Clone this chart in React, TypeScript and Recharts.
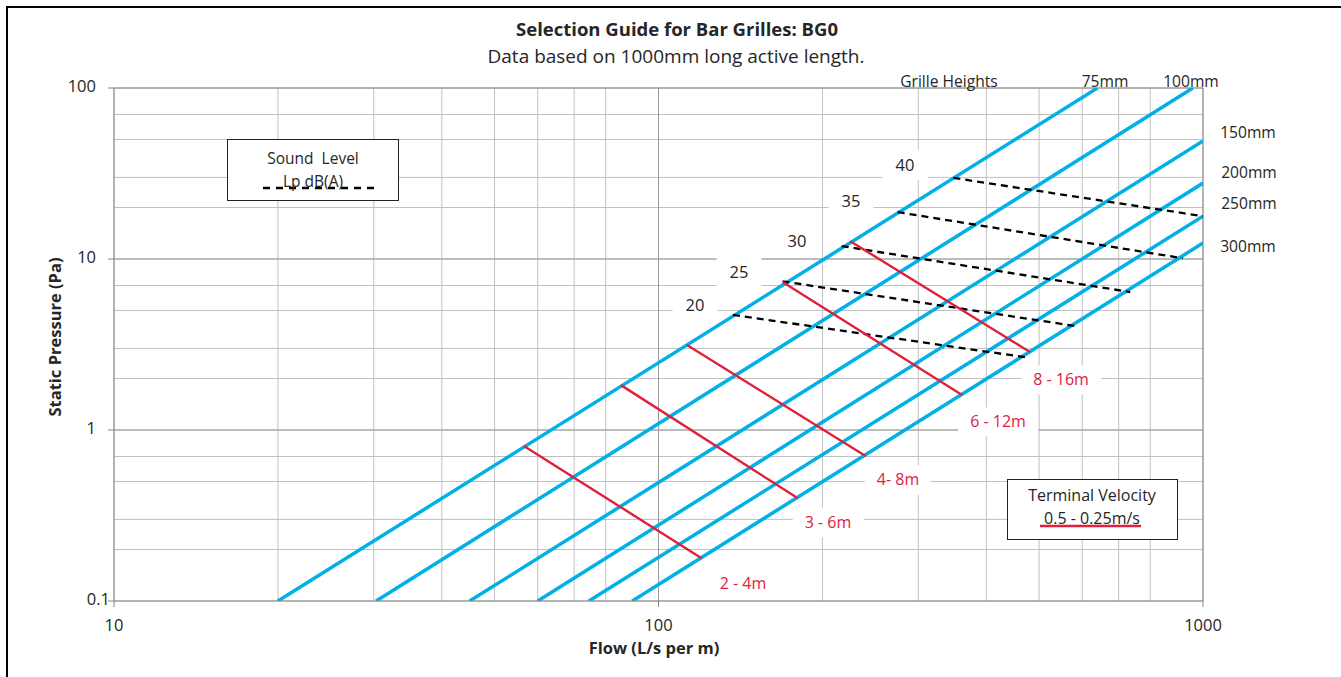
import React from "react";
import {
  LineChart,
  Line,
  XAxis,
  YAxis,
  CartesianGrid,
  ReferenceLine,
} from "recharts";

// axis ticks (log decades with minor lines)
const flowTicks = [10, 20, 30, 40, 50, 60, 70, 80, 90, 100, 200, 300, 400, 500, 600, 700, 800, 900, 1000];
const flowMajor = [10, 100, 1000];
const pressureTicks = [
  0.1, 0.2, 0.3, 0.4, 0.5, 0.6, 0.7, 0.8, 0.9, 1, 2, 3, 4, 5, 6, 7, 8, 9, 10,
  20, 30, 40, 50, 60, 70, 80, 90, 100,
];
const pressureMajor = [0.1, 1, 10, 100];

// grille height lines (flow L/s per m, static pressure Pa)
const grille75 = [{ q: 20, p: 0.1 }, { q: 640, p: 100 }];
const grille100 = [{ q: 30.3, p: 0.1 }, { q: 958, p: 100 }];
const grille150 = [{ q: 45, p: 0.1 }, { q: 1000, p: 49 }];
const grille200 = [{ q: 60, p: 0.1 }, { q: 1000, p: 27.8 }];
const grille250 = [{ q: 74.5, p: 0.1 }, { q: 1000, p: 17.8 }];
const grille300 = [{ q: 89.5, p: 0.1 }, { q: 1000, p: 12.4 }];

// terminal velocity throw lines
const throw2to4 = [{ q: 56.6, p: 0.805 }, { q: 120, p: 0.178 }];
const throw3to6 = [{ q: 85.3, p: 1.83 }, { q: 180, p: 0.4 }];
const throw4to8 = [{ q: 112.8, p: 3.14 }, { q: 240, p: 0.705 }];
const throw6to12 = [{ q: 169, p: 7.33 }, { q: 361, p: 1.6 }];
const throw8to16 = [{ q: 225, p: 12.7 }, { q: 481, p: 2.86 }];

// sound level lines Lp dB(A)
const sound20 = [{ q: 137, p: 4.71 }, { q: 481, p: 2.64 }];
const sound25 = [{ q: 169, p: 7.4 }, { q: 582, p: 4.06 }];
const sound30 = [{ q: 217, p: 11.9 }, { q: 735, p: 6.41 }];
const sound35 = [{ q: 275, p: 18.8 }, { q: 918, p: 10.1 }];
const sound40 = [{ q: 348, p: 29.8 }, { q: 1000, p: 17.8 }];

const grilles = [grille75, grille100, grille150, grille200, grille250, grille300];
const throws = [throw2to4, throw3to6, throw4to8, throw6to12, throw8to16];
const sounds = [sound20, sound25, sound30, sound35, sound40];

const FONT = "'Open Sans', sans-serif";
const BLUE = "#00B0E6";
const RED = "#E0203C";

const FlowTick = (props: any) => {
  const { x, y, payload } = props;
  if (!flowMajor.includes(payload.value)) return <g />;
  return (
    <g>
      <line x1={x} x2={x} y1={y} y2={y + 6} stroke="#868686" />
      <text x={x} y={y + 26} textAnchor="middle" dominantBaseline="middle" fontSize={16.5} fill="#262626" fontFamily={FONT}>
        {payload.value}
      </text>
    </g>
  );
};

const PressureTick = (props: any) => {
  const { x, y, payload } = props;
  if (!pressureMajor.includes(payload.value)) return <g />;
  const dx = payload.value === 0.1 ? 4 : 18;
  return (
    <g>
      <line x1={x - 6} x2={x} y1={y} y2={y} stroke="#868686" />
      <text x={x - dx} y={y} textAnchor="end" dominantBaseline="middle" fontSize={16.5} fill="#262626" fontFamily={FONT}>
        {payload.value}
      </text>
    </g>
  );
};

const Note = ({ x, y, children, color = "#262626", size = 16, bg, pad = "0", weight = 400 }: any) => (
  <div
    style={{
      position: "absolute",
      left: x,
      top: y,
      transform: "translate(-50%, -50%)",
      color,
      fontSize: size,
      fontWeight: weight,
      fontFamily: FONT,
      whiteSpace: "pre",
      background: bg,
      padding: pad,
      lineHeight: 1.2,
    }}
  >
    {children}
  </div>
);

export default function App() {
  return (
    <div style={{ position: "fixed", left: 0, top: 0, width: 1341, height: 677, overflow: "hidden", background: "#fff" }}>
      <div style={{ position: "absolute", left: 6, top: 6, width: 1400, height: 1000, borderLeft: "2px solid #000", borderTop: "2px solid #000" }} />
      <div style={{ position: "absolute", left: 0, top: 0 }}>
        <LineChart width={1341} height={677} margin={{ top: 88, right: 138, bottom: 36, left: 54 }}>
          <CartesianGrid stroke="#c0c0c0" />
          <XAxis
            dataKey="q"
            type="number"
            scale="log"
            domain={[10, 1000]}
            ticks={flowTicks}
            allowDataOverflow
            height={40}
            tickLine={false}
            tickSize={0}
            tickMargin={0}
            stroke="#868686"
            tick={<FlowTick />}
          />
          <YAxis
            dataKey="p"
            type="number"
            scale="log"
            domain={[0.1, 100]}
            ticks={pressureTicks}
            allowDataOverflow
            width={60}
            tickLine={false}
            tickSize={0}
            tickMargin={0}
            stroke="#868686"
            tick={<PressureTick />}
          />
          <ReferenceLine x={100} stroke="#9a9a9a" />
          <ReferenceLine x={1000} stroke="#868686" />
          <ReferenceLine y={1} stroke="#9a9a9a" />
          <ReferenceLine y={10} stroke="#9a9a9a" />
          <ReferenceLine y={100} stroke="#868686" />
          {grilles.map((d, i) => (
            <Line key={"g" + i} data={d} dataKey="p" stroke={BLUE} strokeWidth={3.5} dot={false} isAnimationActive={false} />
          ))}
          {sounds.map((d, i) => (
            <Line key={"s" + i} data={d} dataKey="p" stroke="#000" strokeWidth={2.3} strokeDasharray="7 5" dot={false} isAnimationActive={false} />
          ))}
          {throws.map((d, i) => (
            <Line key={"t" + i} data={d} dataKey="p" stroke={RED} strokeWidth={2.4} dot={false} isAnimationActive={false} />
          ))}
        </LineChart>
      </div>

      <Note x={677} y={29} size={18.5} weight={700}>Selection Guide for Bar Grilles: BG0</Note>
      <Note x={676} y={56} size={19}>Data based on 1000mm long active length.</Note>
      <Note x={654} y={648} size={16.5} weight={700}>Flow (L/s per m)</Note>
      <div
        style={{
          position: "absolute",
          left: 54,
          top: 337,
          transform: "translate(-50%, -50%) rotate(-90deg)",
          fontFamily: FONT,
          fontWeight: 700,
          fontSize: 16.5,
          color: "#262626",
          whiteSpace: "pre",
        }}
      >
        Static Pressure (Pa)
      </div>

      <Note x={949} y={81} size={15.6}>Grille Heights</Note>
      <Note x={1105} y={81} size={15.6}>75mm</Note>
      <Note x={1191} y={81} size={15.6}>100mm</Note>
      <Note x={1248} y={132} size={15.6}>150mm</Note>
      <Note x={1249} y={172} size={15.6}>200mm</Note>
      <Note x={1249} y={203} size={15.6}>250mm</Note>
      <Note x={1248} y={246} size={15.6}>300mm</Note>

      <Note x={905} y={165} size={16.5} bg="#fff" pad="5px 13px">40</Note>
      <Note x={851} y={201} size={16.5} bg="#fff" pad="5px 13px">35</Note>
      <Note x={797} y={241} size={16.5} bg="#fff" pad="5px 13px">30</Note>
      <Note x={739} y={272} size={16.5} bg="#fff" pad="5px 13px">25</Note>
      <Note x={695} y={305} size={16.5} bg="#fff" pad="5px 13px">20</Note>

      <Note x={1061} y={380} size={16} color={RED} bg="#fff" pad="5px 12px">8 - 16m</Note>
      <Note x={998} y={422} size={16} color={RED} bg="#fff" pad="5px 12px">6 - 12m</Note>
      <Note x={898} y={480} size={16} color={RED} bg="#fff" pad="5px 12px">4- 8m</Note>
      <Note x={828} y={523} size={16} color={RED} bg="#fff" pad="5px 12px">3 - 6m</Note>
      <Note x={743} y={584} size={16} color={RED} bg="#fff" pad="5px 12px">2 - 4m</Note>

      <div style={{ position: "absolute", left: 227, top: 139, width: 170, height: 60, border: "1.5px solid #222", background: "#fff" }}>
        <svg width={170} height={60} style={{ position: "absolute", left: 0, top: 0 }}>
          <line x1={35} x2={149} y1={48} y2={48} stroke="#000" strokeWidth={2.5} strokeDasharray="7 6" />
        </svg>
      </div>
      <Note x={313} y={158} size={15.5}>Sound  Level</Note>
      <Note x={313} y={181} size={15.5}>Lp dB(A)</Note>

      <div style={{ position: "absolute", left: 1007, top: 479, width: 169, height: 59, border: "1.5px solid #222", background: "#fff" }}>
        <svg width={169} height={59} style={{ position: "absolute", left: 0, top: 0 }}>
          <line x1={32} x2={133} y1={46} y2={46} stroke={RED} strokeWidth={2.5} />
        </svg>
      </div>
      <Note x={1092} y={496} size={16}>Terminal Velocity</Note>
      <Note x={1092} y={519} size={16}>0.5 - 0.25m/s</Note>
    </div>
  );
}
